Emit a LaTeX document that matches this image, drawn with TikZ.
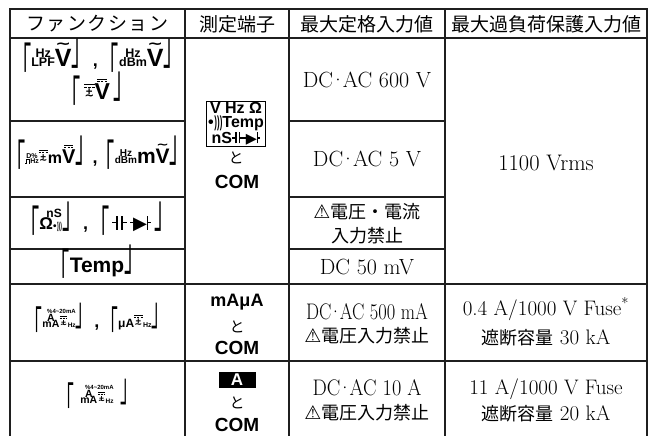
\documentclass[tikz,border=0pt]{standalone}
\usepackage{fontspec}
\usepackage{graphicx}
\newfontfamily\jp{Noto Sans CJK JP}
\newfontfamily\hv{Liberation Sans}
\newfontfamily\djv{DejaVu Sans}
\newcommand\fs[1]{\fontsize{#1}{#1}\selectfont}
\newcommand\vst[1]{\vbox{\offinterlineskip\halign{\hfil##\hfil\cr#1\crcr}}}
\newcommand\dashln{\hbox{\rule{.22em}{.08em}\kern.12em\rule{.22em}{.08em}\kern.12em\rule{.22em}{.08em}}}
\newcommand\dcln{\vbox{\offinterlineskip\hbox{\rule{.9em}{.08em}}\kern.12em\dashln}}
\newcommand\acdc{\vst{\dcln\cr\noalign{\kern.15em}\hbox{+}\cr\noalign{\kern-.1em}\hbox{\djv∼}\cr}}
\newcommand\barV[1]{\vst{\dcln\cr\noalign{\kern.15em}\hbox{#1}\cr}}
\newcommand\tilV[1]{\vst{\hbox{\scalebox{1.5}[1.1]{\djv\bfseries∼}}\cr\noalign{\kern.05em}\hbox{#1}\cr}}
\newcommand\lbr[1][24]{{\jp\mdseries\fs{#1}\raisebox{-.62em}{\scalebox{.8}[1.9]{「}}}}
\newcommand\rbr[1][24]{{\jp\mdseries\fs{#1}\raisebox{.1em}{\scalebox{.8}[1.9]{」}}}}
\newcommand\spk{•\kern.05em\scalebox{.5}[1]{)))}}
\newcommand\capsym{\hbox{\rule[.31em]{.2em}{.08em}\rule{.09em}{.7em}\kern.14em\rule{.09em}{.7em}\rule[.31em]{.2em}{.08em}}}
\newcommand\diodesym{\hbox{\rule[.31em]{.15em}{.08em}{\djv\scalebox{.9}{▶}}\kern-.02em\rule{.09em}{.7em}\rule[.31em]{.15em}{.08em}}}
\newcommand\pulse{\hbox{\rule{.15em}{.08em}\rule{.08em}{.6em}\rule[.52em]{.25em}{.08em}\rule{.08em}{.6em}\rule{.15em}{.08em}}}
\newcommand\maicon{\vbox{\offinterlineskip\halign{\hfil##\cr\hbox{\fs{6}\%4\textasciitilde20mA}\cr\noalign{\kern1pt}\hbox{\vst{\fs{10.5}A\cr\noalign{\kern-1pt}\fs{10.5}mA}\kern.5pt{\fs{8.5}\acdc}\kern.3pt{\fs{6.5}Hz}}\cr}}}
\newcommand\muicon{\hbox{{\fs{12}μA}{\fs{9.5}\acdc}\kern.3pt{\fs{7}Hz}}}
\begin{document}
\begin{tikzpicture}[x=1pt,y=-1pt,
  grid/.style={line width=1.7pt, draw=black!88},
  hdr/.style={font=\jp\fs{19}, inner sep=0pt},
  val/.style={font=\fontsize{22}{24}\selectfont, align=center, inner sep=0pt},
  jpv/.style={font=\jp\fontsize{18}{24}\selectfont, align=center, inner sep=0pt},
  term/.style={font=\hv\bfseries\fs{19}, inner sep=0pt},
  tosty/.style={font=\jp\fs{15}, inner sep=0pt},
  fn/.style={font=\hv\bfseries\fs{11.5}, inner sep=0pt}]
\useasboundingbox (0,0) rectangle (648,436);
% grid
\draw[grid] (10,436) -- (10,9) -- (647,9) -- (647,436);
\draw[grid] (10,38) -- (647,38);
\draw[grid] (185,9) -- (185,436);
\draw[grid] (289,9) -- (289,436);
\draw[grid] (445,9) -- (445,436);
\foreach \yy in {121,197,249}{
  \draw[grid] (10,\yy) -- (185,\yy);
  \draw[grid] (289,\yy) -- (445,\yy);
}
\draw[grid] (10,284) -- (647,284);
\draw[grid] (10,361) -- (647,361);
% header
\node[hdr] (h1) at (97.5,24) {\makebox[142pt][s]{フ\hfill ァ\hfill ン\hfill ク\hfill シ\hfill ョ\hfill ン}};
\node[hdr] (h2) at (237,24) {測定端子};
\node[hdr] (h3) at (367,24) {最大定格入力値};
\node[hdr] (h4) at (546,24) {最大過負荷保護入力値};
% function column
\node[fn, font=\hv\bfseries\fs{12.5}] (f1a) at (97.5,60) {\lbr\vst{Hz\cr LPF}\tilV{\fs{25}V}\rbr\,{\fs{18},}\,\lbr\vst{Hz\cr dBm}\tilV{\fs{25}V}\rbr};
\node[fn] (f1b) at (97,93) {\lbr\ \acdc\barV{\fs{23}V}\ \rbr};
\node[fn, font=\hv\bfseries\fs{10}] (f2) at (97.5,157) {\lbr\vst{\fs{7}D\%\cr\fs{7}\pulse Hz}\acdc{\fs{16}m}\barV{\fs{20}V}\rbr\kern-2pt{\fs{18},}\kern-2pt\lbr\vst{Hz\cr dBm}{\fs{21}m}\tilV{\fs{21}V}\rbr};
\node[fn] (f3) at (97,223) {\lbr\vst{\hskip.6em\fs{12}nS\cr\hbox{\fs{17}Ω\fs{10}\spk}}\rbr\,{\fs{18},}\,\lbr\ {\fs{20}\capsym\,\diodesym}\ \rbr};
\node[fn, font=\hv\bfseries\fs{21}] (f4) at (97,266) {\lbr Temp\rbr};
\node[fn] (f5) at (97,322) {\lbr[21]\maicon\rbr[21]\,{\fs{18},}\,\lbr[21]\muicon\rbr[21]};
\node[fn] (f6) at (97,398) {\lbr[21]\ \ \maicon\ \ \rbr[21]};
% terminal column
\node[draw, line width=1pt, inner sep=1.5pt, font=\hv\bfseries\fontsize{16}{14}\selectfont, align=center] (tbox) at (236,124) {V Hz Ω\\\spk Temp\\nS\capsym\diodesym};
\node[tosty] (to1) at (236,158) {と};
\node[term] (com1) at (237,182) {COM};
\node[term, font=\hv\bfseries\fs{18}] (ma) at (237,302) {mAμA};
\node[tosty] (to2) at (237,327) {と};
\node[term] (com2) at (237,348) {COM};
\node[fill=black, text=white, font=\hv\bfseries\fs{17}, minimum width=37pt, minimum height=16pt, inner sep=0pt] (abox) at (237,380) {A};
\node[tosty] (to3) at (237,403) {と};
\node[term] (com3) at (237,425) {COM};
% rated column
\node[val] (r1) at (367,80) {DC\kern-3pt·\kern-3pt AC 600 V};
\node[val] (r2) at (367,159) {DC\kern-3pt·\kern-3pt AC 5 V};
\node[jpv] (r3) at (367,224) {{\djv\fs{19}⚠}電圧・電流\\入力禁止};
\node[val] (r4) at (367,267) {DC 50 mV};
\node[val, font=\fontsize{22.5}{23}\selectfont] (r5) at (367,324) {\scalebox{.82}[1]{DC\kern-3pt·\kern-3pt AC 500 mA}\\{\jp\fs{18}{\djv\fs{19}⚠}電圧入力禁止}};
\node[val, font=\fontsize{22.5}{24}\selectfont] (r6) at (367,400) {\scalebox{.9}[1]{DC\kern-3pt·\kern-3pt AC 10 A}\\{\jp\fs{18}{\djv\fs{19}⚠}電圧入力禁止}};
% overload column
\node[val, font=\fs{22.5}] (o1) at (546,163) {1100 Vrms};
\node[val, font=\fontsize{21}{29}\selectfont] (o5) at (546,322) {0.4 A/1000 V Fuse\textsuperscript{*}\\{\jp\fs{18}遮断容量} 30 kA};
\node[val, font=\fontsize{21}{26}\selectfont] (o6) at (546,400) {11 A/1000 V Fuse\\{\jp\fs{18}遮断容量} 20 kA};
\end{tikzpicture}
\end{document}
